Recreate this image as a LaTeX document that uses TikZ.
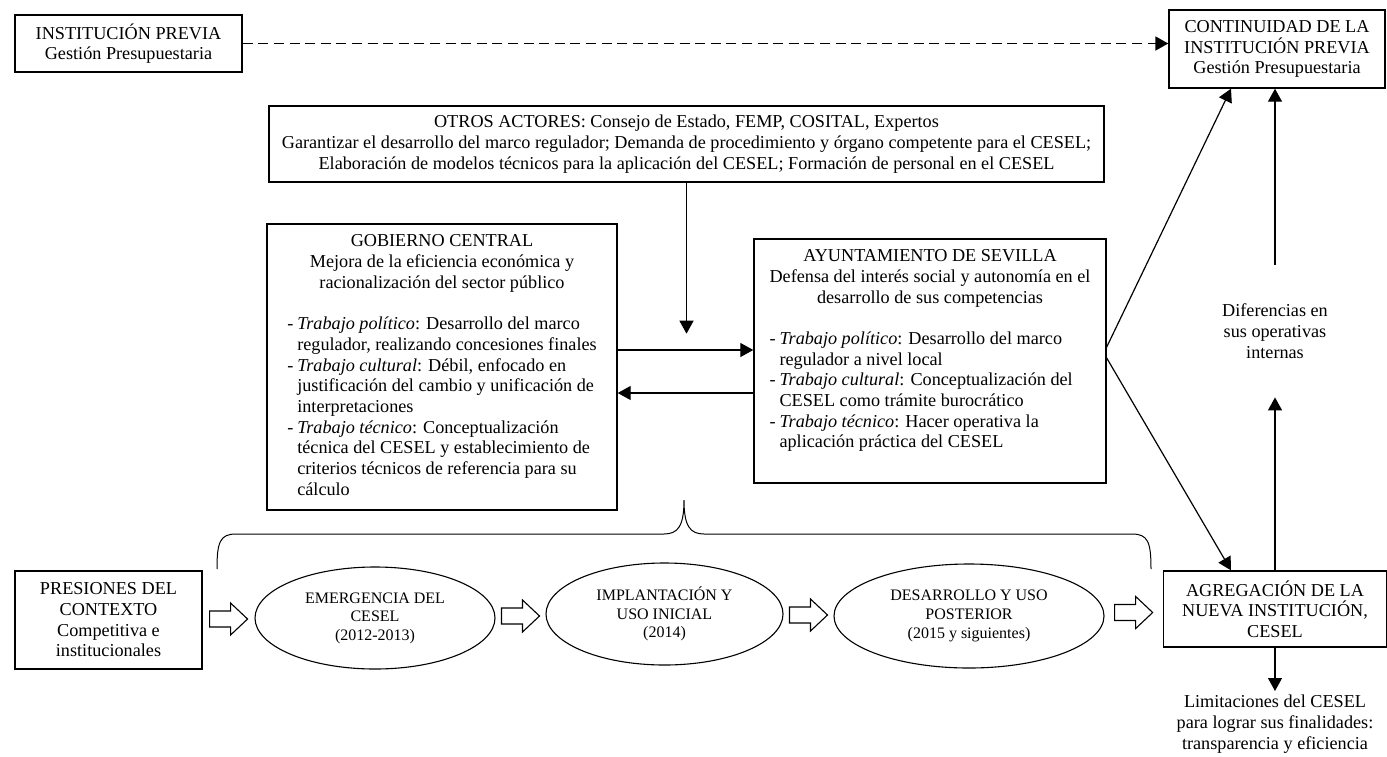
\documentclass[tikz,border=0pt]{standalone}
\usepackage{fontspec}
\setmainfont{Liberation Serif}
\usetikzlibrary{arrows.meta,positioning,calc,shapes.geometric}
\newcommand{\itm}{\makebox[5pt][l]{-}}
\newcommand{\ind}{\hspace*{5pt}}
\newcommand{\cen}[1]{\multicolumn{1}{@{}c@{}}{#1}}

\begin{document}
\begin{tikzpicture}[x=0.5pt,y=-0.5pt,
  font=\fontsize{9.1}{10.35}\selectfont,
  box/.style={draw,line width=0.7pt,align=center,inner sep=0pt},
  oval/.style={draw,ellipse,line width=0.55pt,align=center,inner sep=0pt,font=\fontsize{8}{9.3}\selectfont},
  arr/.style={line width=0.6pt,-{Triangle[length=6.5pt,width=7pt]}},
  hollow/.style={draw,fill=white,line width=0.55pt,line join=miter}]
\useasboundingbox (0,0) rectangle (1387,756);
\node[box,minimum width=113.5pt,minimum height=28.5pt] (prev) at (128.5,43.5) {INSTITUCIÓN PREVIA\\Gestión Presupuestaria};
\node[box,minimum width=108pt,minimum height=39pt] (cont) at (1277,49) {CONTINUIDAD DE LA\\INSTITUCIÓN PREVIA\\Gestión Presupuestaria};
\node[box,minimum width=417.5pt,minimum height=38pt] (otros) at (686.5,144) {OTROS ACTORES: Consejo de Estado, FEMP, COSITAL, Expertos\\Garantizar el desarrollo del marco regulador; Demanda de procedimiento y órgano competente para el CESEL;\\Elaboración de modelos técnicos para la aplicación del CESEL; Formación de personal en el CESEL};
\node[box,minimum width=175pt,minimum height=143pt] (gob) at (442,367) {\begin{tabular}{@{}l@{}}
\cen{GOBIERNO CENTRAL}\\
\cen{Mejora de la eficiencia económica y}\\
\cen{racionalización del sector público}\\
\\
\itm\textit{Trabajo político}: Desarrollo del marco\\
\ind regulador, realizando concesiones finales\\
\itm\textit{Trabajo cultural}: Débil, enfocado en\\
\ind justificación del cambio y unificación de\\
\ind interpretaciones\\
\itm\textit{Trabajo técnico}: Conceptualización\\
\ind técnica del CESEL y establecimiento de\\
\ind criterios técnicos de referencia para su\\
\ind cálculo
\end{tabular}};
\node[box,minimum width=176pt,minimum height=122pt] (ayto) at (930,361) {\begin{tabular}{@{}l@{}}
\cen{AYUNTAMIENTO DE SEVILLA}\\
\cen{Defensa del interés social y autonomía en el}\\
\cen{desarrollo de sus competencias}\\
\\
\itm\textit{Trabajo político}: Desarrollo del marco\\
\ind regulador a nivel local\\
\itm\textit{Trabajo cultural}: Conceptualización del\\
\ind CESEL como trámite burocrático\\
\itm\textit{Trabajo técnico}: Hacer operativa la\\
\ind aplicación práctica del CESEL\\
~
\end{tabular}};
\node[box,minimum width=93.5pt,minimum height=49pt] (pres) at (108.5,620) {PRESIONES DEL\\CONTEXTO\\Competitiva e\\institucionales};
\node[oval,minimum width=120pt,minimum height=51pt] (e1) at (375,618) {EMERGENCIA DEL\\CESEL\\(2012-2013)};
\node[oval,minimum width=118.5pt,minimum height=51pt] (e2) at (664.5,614) {IMPLANTACIÓN Y\\USO INICIAL\\(2014)};
\node[oval,minimum width=135pt,minimum height=52pt] (e3) at (969,616) {DESARROLLO Y USO\\POSTERIOR\\(2015 y siguientes)};
\node[box,minimum width=111.5pt,minimum height=38pt] (agr) at (1275,609) {AGREGACIÓN DE LA\\NUEVA INSTITUCIÓN,\\CESEL};
\node[align=center,minimum height=66pt,inner sep=0pt] (dif) at (1275,331) {Diferencias en\\sus operativas\\internas};
\node[align=center,anchor=north,inner sep=0pt,outer sep=2pt] (lim) at (1275,691) {Limitaciones del CESEL\\para lograr sus finalidades:\\transparencia y eficiencia};
\foreach \a/\b in {pres/e1, e1/e2, e2/e3, e3/agr}
  \draw[hollow] ($(\a.east)!0.5!(\b.west)$) ++(-19,-8) -- ++(21,0) -- ++(0,-8) -- ++(17,16)
    -- ++(-17,16) -- ++(0,-8) -- ++(-21,0) -- cycle;
\coordinate (bl) at (217,569);
\coordinate (bt) at (684,500);
\coordinate (br) at (1151,569);
\draw[line width=0.5pt] (bl) .. controls (217,542) and (220,534) .. (236,534) -- (664,534)
  .. controls (678,534) and (684,526) .. (bt) .. controls (684,526) and (690,534) .. (704,534)
  -- (1132,534) .. controls (1148,534) and (1151,542) .. (br);
\draw[arr,line width=0.9pt,dash pattern=on 5pt off 2.8pt] (prev) -- (prev -| cont.west);
\coordinate (tipO) at ($(otros.south)+(0,151)$);
\draw[arr] (otros) -- (tipO);
\coordinate (g1) at ($(gob.east)+(0,-17)$);
\coordinate (a1) at ($(ayto.west)+(0,32)$);
\draw[arr] (g1) -- (g1 -| ayto.west);
\draw[arr] (a1) -- (a1 -| gob.east);
\draw[arr] ($(ayto.east)+(0,-14)$) -- ($(cont.south)+(-46,0)$);
\draw[arr] ($(ayto.east)+(0,-3)$) -- ($(agr.north)+(-44,0)$);
\draw[arr] (agr) -- (dif);
\draw[arr] (dif.north) -- (dif.north |- cont.south);
\draw[arr] (agr) -- (lim);
\end{tikzpicture}
\end{document}
